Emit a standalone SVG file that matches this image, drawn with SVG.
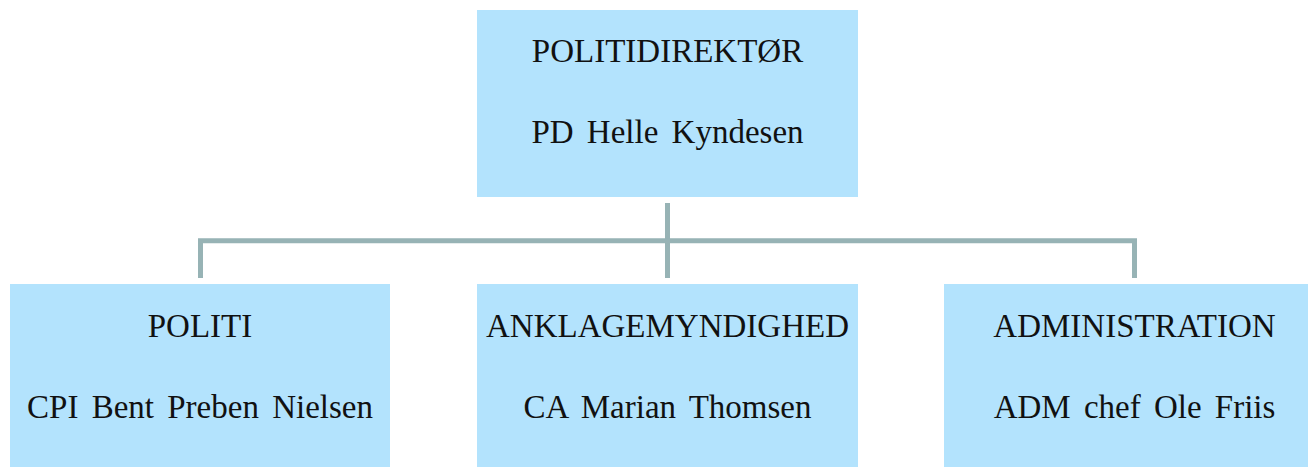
<svg xmlns="http://www.w3.org/2000/svg" width="1308" height="467" viewBox="0 0 1308 467">
<style>
.box{fill:#B3E3FD}
.t{font-family:"Liberation Serif","Times New Roman",serif;font-size:33px;fill:#111;text-anchor:middle}
.n{word-spacing:5px}
.conn{fill:none;stroke:#97B3B5;stroke-width:5;stroke-linejoin:miter}
</style>
<rect width="1308" height="467" fill="#fff"/>
<g id="connectors">
<path class="conn" d="M667.5 203V278"/>
<path class="conn" d="M200.5 278V240.8H1134.5V278"/>
</g>
<g id="node-politidirektor">
<rect class="box" x="477" y="10" width="381" height="187"/>
<text class="t" x="667.5" y="62">POLITIDIREKTØR</text>
<text class="t n" x="667.5" y="143">PD Helle Kyndesen</text>
</g>
<g id="node-politi">
<rect class="box" x="10" y="284" width="380" height="183"/>
<text class="t" x="200" y="337">POLITI</text>
<text class="t n" x="200" y="418">CPI Bent Preben Nielsen</text>
</g>
<g id="node-anklagemyndighed">
<rect class="box" x="477" y="284" width="381" height="183"/>
<text class="t" x="667.5" y="337">ANKLAGEMYNDIGHED</text>
<text class="t n" x="667.5" y="418">CA Marian Thomsen</text>
</g>
<g id="node-administration">
<rect class="box" x="944" y="284" width="364" height="183"/>
<text class="t" x="1134.5" y="337">ADMINISTRATION</text>
<text class="t n" x="1134.5" y="418">ADM chef Ole Friis</text>
</g>
</svg>
